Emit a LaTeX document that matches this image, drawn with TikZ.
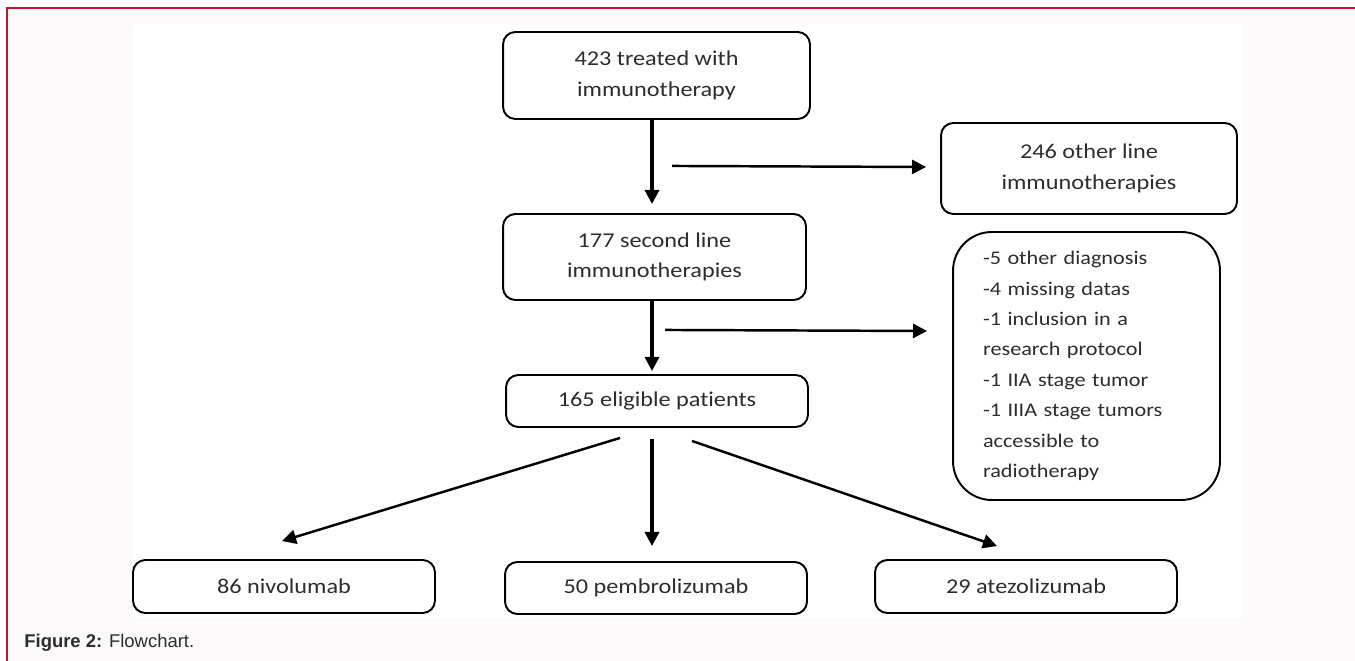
\documentclass[tikz,border=0pt]{standalone}
\usepackage{fontspec}
\setmainfont{Carlito}[FakeStretch=1.15,Ligatures=NoCommon]
\newfontfamily\capfont{Liberation Sans}
\usepackage{xcolor}
\usetikzlibrary{calc,arrows.meta,positioning}
\definecolor{framered}{RGB}{200,16,46}
\definecolor{pagegray}{RGB}{251,249,250}
\definecolor{txtgray}{RGB}{45,45,45}

\begin{document}
\begin{tikzpicture}[x=0.02cm,y=-0.02cm,
	box/.style={draw,line width=1.1pt,rounded corners=7pt,fill=white,text=txtgray,align=center,inner sep=0pt,font=\fontsize{12}{17.4}\selectfont},
	arr/.style={line width=1.4pt,-{Triangle[length=8pt,width=8pt]}},
	varr/.style={arr,line width=1.8pt}]
	\useasboundingbox (0,0) rectangle (1355,661);
	% page and frame
	\fill[white] (0,0) rectangle (1355,661);
	\fill[pagegray] (7,8) rectangle (1355,661);
	\fill[white] (133,24) rectangle (1242,618);
	\draw[framered,line width=1pt] (7,661) -- (7,8) -- (1355,8);
	% boxes
	\node[box,minimum width=6.14cm,minimum height=1.74cm] (treated) at (656.5,75.5) {423 treated with\\immunotherapy};
	\node[box,minimum width=5.92cm,minimum height=1.82cm] (other) at (1089,168.5) {246 other line\\immunotherapies};
	\node[box,minimum width=6.06cm,minimum height=1.72cm] (second) at (654.5,257) {177 second line\\immunotherapies};
	\node[box,minimum width=6.04cm,minimum height=1.04cm] (eligible) at (657,401) {165 eligible patients};
	\node[box,rounded corners=22pt,align=left,text width=4.14cm,inner xsep=0.6cm,minimum height=5.36cm,font=\fontsize{11}{17.3}\selectfont] (excl) at (1086.5,366)
		{-5 other diagnosis\\-4 missing datas\\-1 inclusion in a\\research protocol\\-1 IIA stage tumor\\-1 IIIA stage tumors\\accessible to\\radiotherapy};
	\node[box,minimum width=6.04cm,minimum height=1.06cm] (nivo) at (284,586.5) {86 nivolumab};
	\node[box,minimum width=6.04cm,minimum height=1.04cm] (pembro) at (656,588) {50 pembrolizumab};
	\node[box,minimum width=6.04cm,minimum height=1.06cm] (atezo) at (1026,586.5) {29 atezolizumab};
	% arrows
	\draw[varr] ($(treated.south)+(-4.5,0)$) -- ($(second.north)+(-2.5,-9)$);
	\draw[arr] ($(treated.south)+(15.5,46)$) -- ($(other.west)+(-14,-1.5)$);
	\draw[varr] ($(second.south)+(-2.5,0)$) -- ($(eligible.north)+(-5,-3)$);
	\draw[arr] ($(second.south)+(10.5,29)$) -- ($(excl.west)+(-25,-35)$);
	\draw[arr] ($(eligible.south)+(-37,10)$) -- ($(nivo.north)+(-2,-18)$);
	\draw[varr] ($(eligible.south)+(-5,11)$) -- ($(pembro.north)+(-4,-15)$);
	\draw[arr] ($(eligible.south)+(35,13)$) -- ($(atezo.north)+(-29,-13)$);
	% caption
	\node[anchor=base west,inner sep=0pt,text=txtgray,font=\capfont\fontsize{10.5}{12}\selectfont] (caption) at (24,647) {\textbf{Figure 2:} Flowchart.};
\end{tikzpicture}
\end{document}
